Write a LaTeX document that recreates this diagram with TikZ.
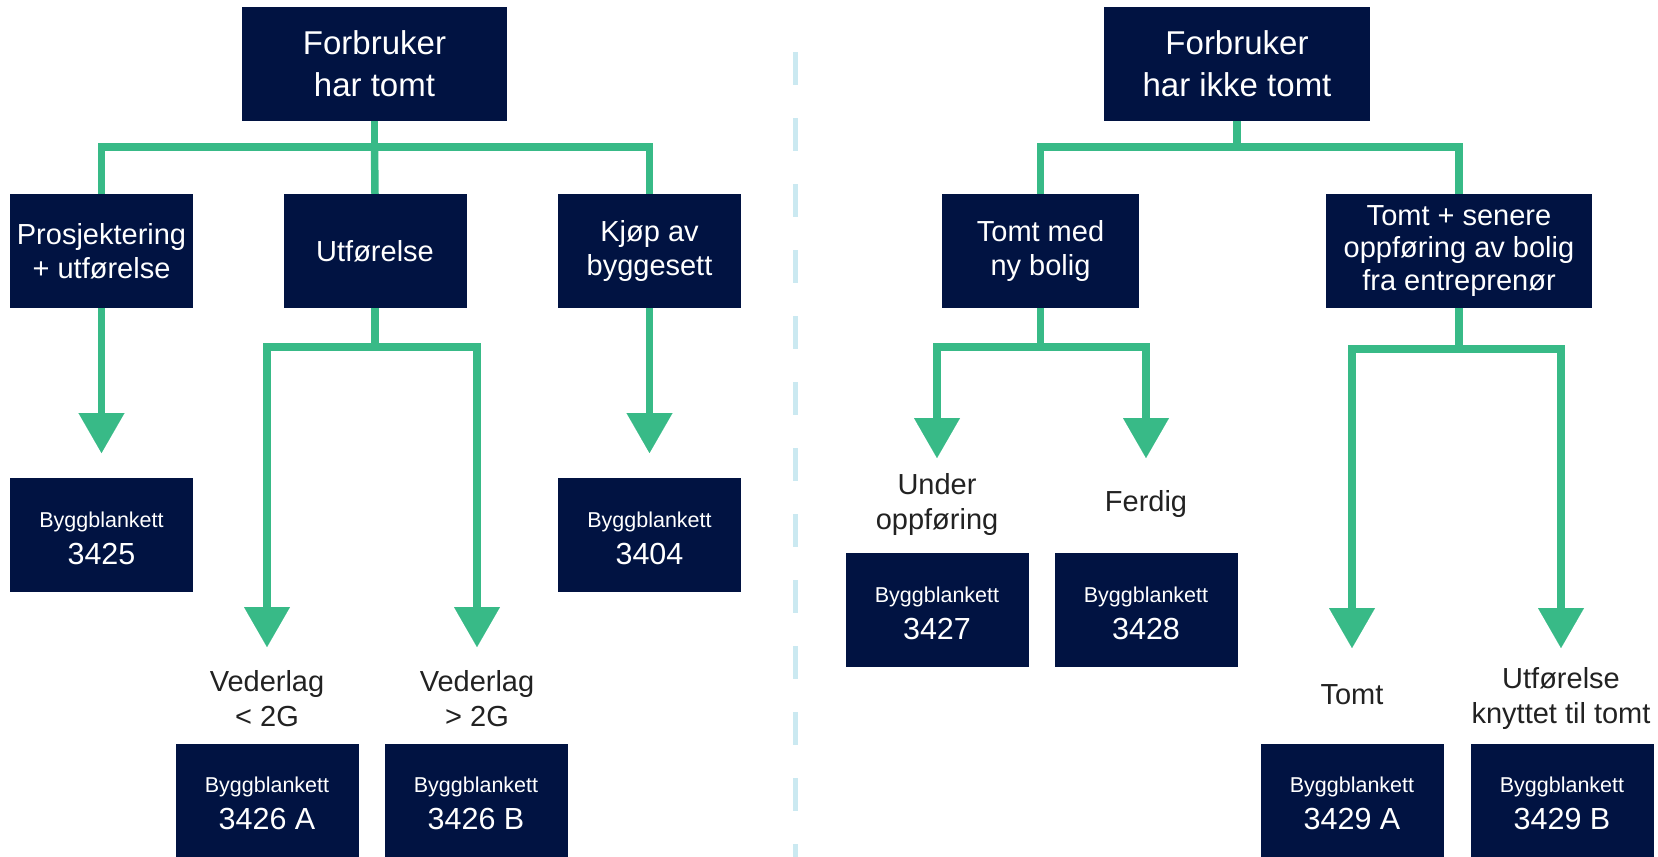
\documentclass[tikz,border=0pt]{standalone}
\usepackage{fontspec}
\setmainfont{Liberation Sans}
\usetikzlibrary{arrows.meta}
\definecolor{navy}{RGB}{1,19,66}
\definecolor{grn}{RGB}{56,186,135}
\definecolor{dashblue}{RGB}{203,233,241}
\definecolor{labelgray}{RGB}{34,34,34}
\newcommand{\myfs}[2]{\fontsize{#1}{#2}\selectfont}
\newcommand{\bbl}{\rule{0pt}{21.7pt}{\myfs{21.5}{26}Byggblankett}}
\begin{document}
\begin{tikzpicture}[x=1pt,y=-1pt,
  box/.style={rectangle,fill=navy,text=white,inner sep=0pt,align=center,minimum height=114pt},
  topbox/.style={box,minimum width=265pt,font={\myfs{33}{41.7}}},
  midbox/.style={box,minimum width=183pt,font={\myfs{29}{34}}},
  formbox/.style={box,minimum width=183pt,font={\myfs{30.5}{37}}},
  lbl/.style={align=center,text=labelgray,inner sep=0pt,font={\myfs{29}{35}}},
  link/.style={draw=grn,line width=7.5pt,line join=miter},
  arr/.style={link,-{Triangle[width=46pt,length=40pt,line width=0.01pt]}},
  sep/.style={draw=dashblue,line width=5pt,dash pattern=on 33pt off 33pt}
]
\useasboundingbox (0,0) rectangle (1658,857);
% separator
\coordinate (d0) at (795.5,52);
\coordinate (d1) at (795.5,857);
\draw[sep] (d0) -- (d1);

% nodes
\node[topbox] (T1) at (374.5,64) {Forbruker\\har tomt};
\node[topbox,minimum width=266pt] (T2) at (1237,64) {Forbruker\\har ikke tomt};
\node[midbox] (L1) at (101.5,251) {Prosjektering\\+ utførelse};
\node[midbox] (L2) at (375,251) {Utførelse};
\node[midbox] (L3) at (649.5,251) {Kjøp av\\byggesett};
\node[midbox,minimum width=197pt] (R1) at (1040.5,251) {Tomt med\\ny bolig};
\node[midbox,minimum width=266pt,font={\myfs{29}{32.5}}] (R2) at (1459,251) {Tomt + senere\\oppføring av bolig\\fra entreprenør};

\node[formbox] (F3425) at (101.5,535) {\bbl\\3425};
\node[formbox] (F3404) at (649.5,535) {\bbl\\3404};
\node[formbox] (F3426A) at (267,800.5) {\bbl\\3426 A};
\node[formbox] (F3426B) at (476,800.5) {\bbl\\3426 B};
\node[formbox] (F3427) at (937,610) {\bbl\\3427};
\node[formbox] (F3428) at (1146,610) {\bbl\\3428};
\node[formbox] (F3429A) at (1352,800.5) {\bbl\\3429 A};
\node[formbox] (F3429B) at (1562,800.5) {\bbl\\3429 B};

\node[lbl] (V1) at (267,699) {Vederlag\\< 2G};
\node[lbl] (V2) at (477,699) {Vederlag\\> 2G};
\node[lbl] (U1) at (937,504) {Under\\oppføring};
\node[lbl] (U2) at (1146,504) {Ferdig};
\node[lbl] (W1) at (1352,695) {Tomt};
\node[lbl] (W2) at (1561,698.5) {Utførelse\\knyttet til tomt};

% left connectors
\coordinate (j1) at (374.5,147);
\draw[link] (T1.south) -- (j1);
\draw[link] (L1.north) |- (j1) -| (L3.north);
\draw[link] (j1) -- (L2.north);
\coordinate (t1) at (101.5,453);
\coordinate (t3) at (649.5,453);
\draw[arr] (L1.south) -- (t1);
\draw[arr] (L3.south) -- (t3);
\coordinate (j2) at (375,347);
\draw[link] (L2.south) -- (j2);
\coordinate (t2a) at (267,647);
\coordinate (t2b) at (477,647);
\draw[arr] (j2) -| (t2a);
\draw[arr] (j2) -| (t2b);

% right connectors
\coordinate (k1) at (1237,147);
\draw[link] (T2.south) -- (k1);
\draw[link] (R1.north) |- (k1) -| (R2.north);
\coordinate (k2) at (1040.5,347);
\draw[link] (R1.south) -- (k2);
\coordinate (s1) at (937,458);
\coordinate (s2) at (1146,458);
\draw[arr] (k2) -| (s1);
\draw[arr] (k2) -| (s2);
\coordinate (k3) at (1459,349);
\draw[link] (R2.south) -- (k3);
\coordinate (s3) at (1352,648);
\coordinate (s4) at (1561,648);
\draw[arr] (k3) -| (s3);
\draw[arr] (k3) -| (s4);
\end{tikzpicture}
\end{document}
